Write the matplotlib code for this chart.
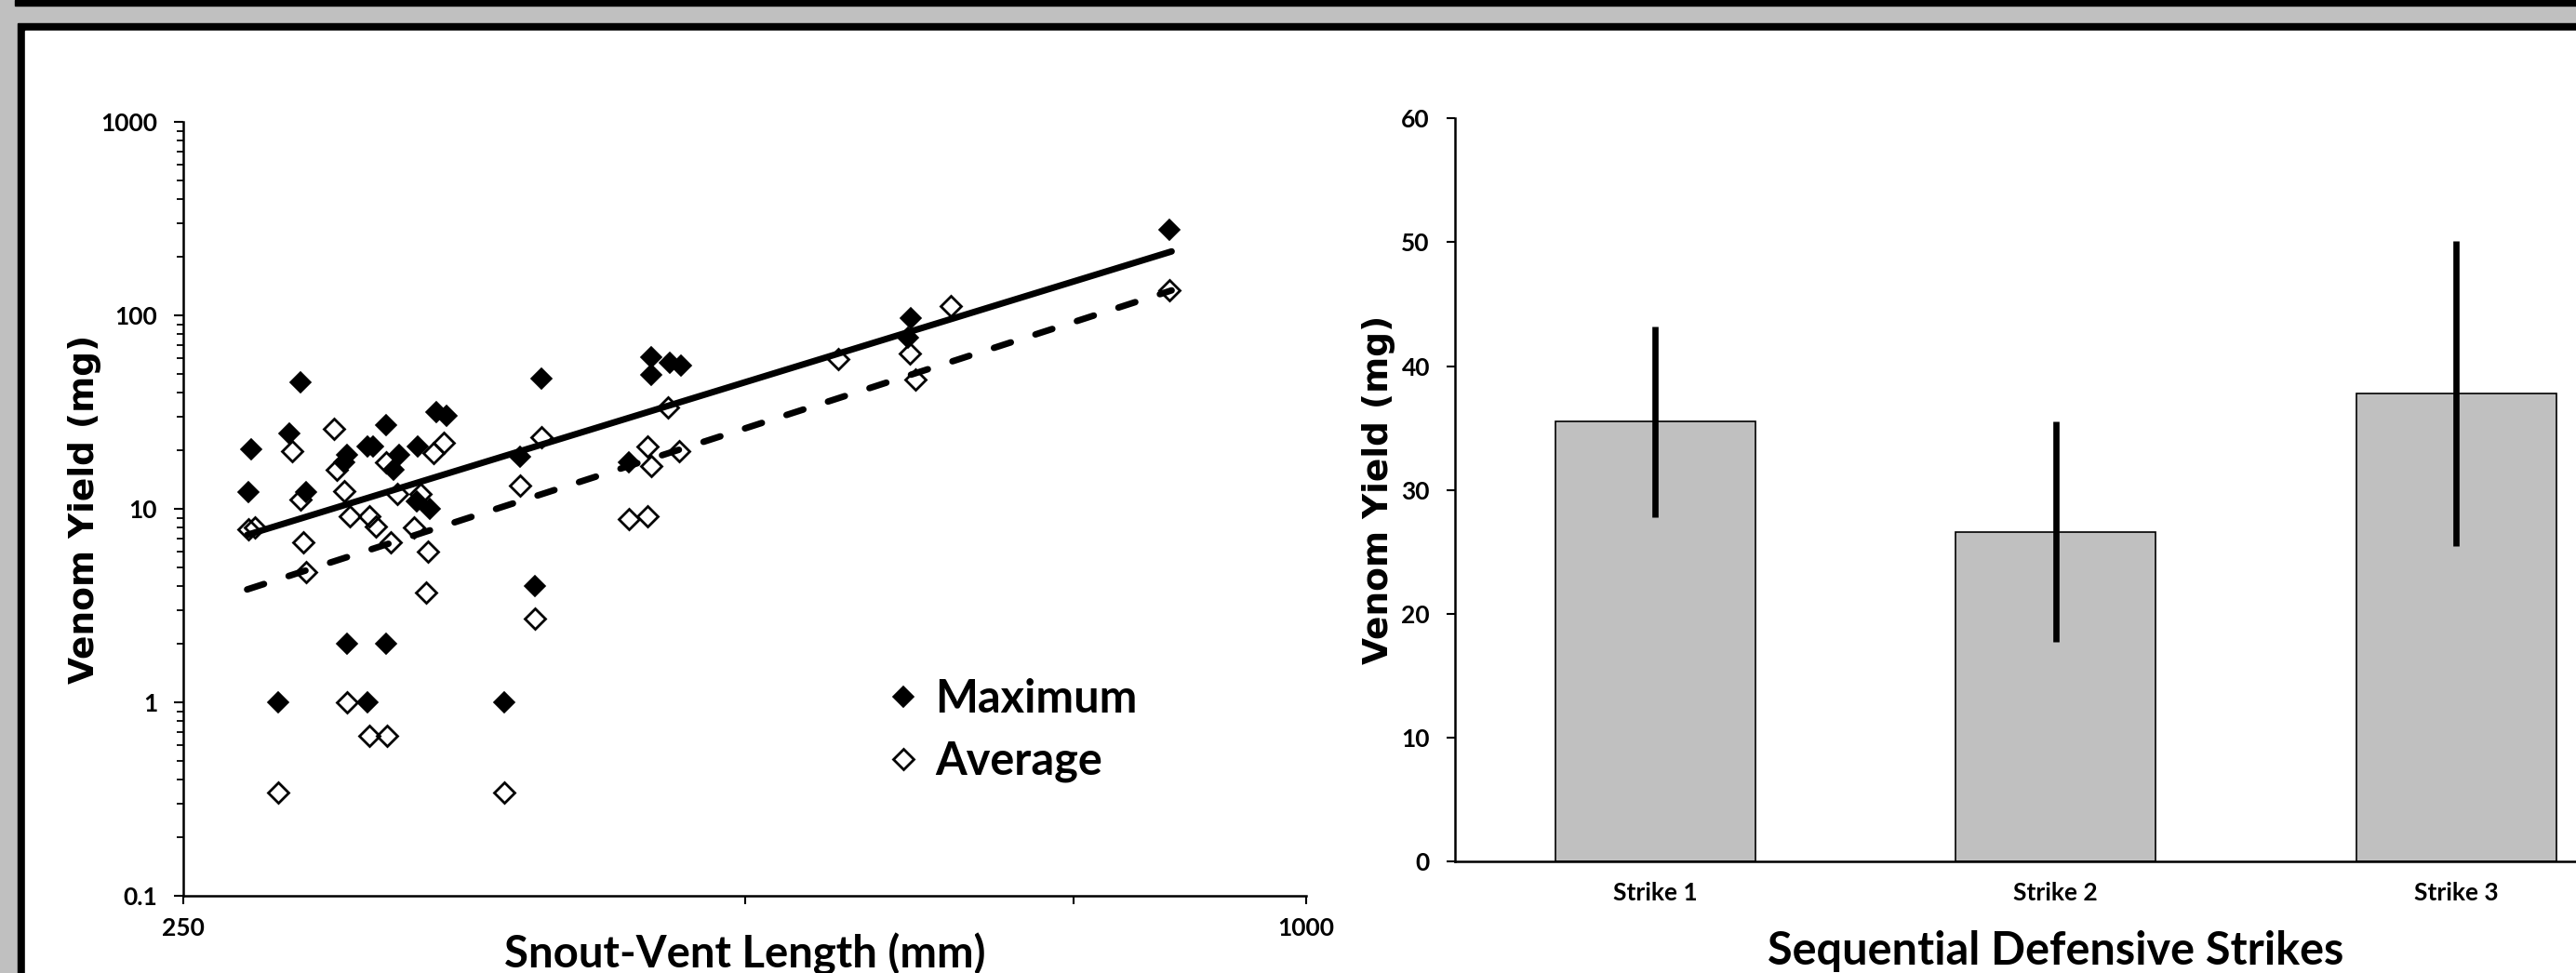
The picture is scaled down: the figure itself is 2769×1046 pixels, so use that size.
import numpy as np
import matplotlib
matplotlib.use("Agg")
import matplotlib.pyplot as plt
from matplotlib.patches import Rectangle
from matplotlib.ticker import LogLocator, NullFormatter

plt.rcParams['font.family'] = ['Lato', 'DejaVu Sans']
plt.rcParams['font.weight'] = 'bold'

# left panel: snout-vent length (mm) vs venom yield (mg)
max_svl = [272, 271, 281, 289, 285, 291, 306, 305, 306, 314, 316, 314, 321, 321,
           326.5, 324, 334, 333.5, 339, 341.5, 346, 371.5, 379, 386, 389, 433.5,
           445.6, 445.6, 456, 462, 614, 612, 845]
max_yield = [20.2, 12.2, 1.0, 45, 24.5, 12.2, 19.0, 17.4, 2.0, 21.1, 21.1, 1.0, 27, 2.0,
             19.0, 16.0, 21.1, 10.9, 10.0, 31.5, 30.2, 1.0, 18.6, 4.0, 47, 17.4,
             60.8, 49.2, 57.1, 54.7, 97, 77, 277]
avg_svl = [271, 273, 286, 289, 290, 291, 281, 301, 302, 305, 307, 306, 314.7, 317,
           314.7, 321.5, 321, 323, 325.5, 332.5, 335, 338, 337.5, 340.6, 345, 371.5,
           379, 386, 389, 433.5, 443.7, 443.7, 445.6, 455, 461, 561, 613, 617, 645, 845]
avg_yield = [7.8, 8.0, 19.8, 11.2, 6.7, 4.7, 0.34, 26, 16.0, 12.4, 9.2, 1.0, 9.2, 8.1,
             0.67, 0.67, 17.4, 6.7, 11.9, 8.0, 11.9, 6.0, 3.7, 19.4, 22, 0.34,
             13.2, 2.7, 23.4, 8.85, 9.2, 21.1, 16.7, 33.6, 19.8, 59.7, 63.2, 46.5, 112, 134.6]

# power-law trend lines (end points)
trend_svl = [270.5, 847]
trend_max = [7.33, 214]
trend_avg = [3.83, 134.6]

# right panel: sequential strikes
strikes = ['Strike 1', 'Strike 2', 'Strike 3']
strike_mean = [35.5, 26.6, 37.8]
strike_err = [7.7, 8.9, 12.3]

W, H = 2769, 1046
fig = plt.figure(figsize=(W / 100, H / 100), dpi=100, facecolor='#c0c0c0')

# frame around the panel
fig.add_artist(Rectangle((16 / W, 1 - 6 / H), 1, 6 / H, transform=fig.transFigure,
                         color='black', zorder=-10))
fig.add_artist(Rectangle((19 / W, 0), 1, (H - 25) / H, transform=fig.transFigure,
                         color='black', zorder=-10))
fig.add_artist(Rectangle((27 / W, 0), 1, (H - 33) / H, transform=fig.transFigure,
                         color='white', zorder=-9))

ax = fig.add_axes([197 / W, 1 - 963 / H, 1207 / W, 832 / H])
ax.set_facecolor('none')
ax.plot(trend_svl, trend_max, color='black', lw=5, solid_capstyle='round')
ax.plot(trend_svl, trend_avg, color='black', lw=5, dashes=(2.75, 4.0),
        dash_capstyle='round')
ax.plot(max_svl, max_yield, 'D', ms=11, mfc='black', mec='black', mew=1.2,
        ls='none', label='Maximum')
ax.plot(avg_svl, avg_yield, 'D', ms=11, mfc='none', mec='black', mew=2,
        ls='none', label='Average')

ax.set_xscale('log')
ax.set_yscale('log')
ax.set_xlim(250, 1000)
ax.set_ylim(0.1, 1000)
ax.set_xticks([250, 1000])
ax.set_xticklabels(['250', '1000'])
ax.set_xticks([500, 750], minor=True)
ax.xaxis.set_minor_formatter(NullFormatter())
ax.set_yticks([0.1, 1, 10, 100, 1000])
ax.set_yticklabels(['0.1', '1', '10', '100', '1000'])
ax.yaxis.set_minor_locator(LogLocator(base=10, subs=np.arange(2, 10)))
ax.yaxis.set_minor_formatter(NullFormatter())

for s in ['top', 'right']:
    ax.spines[s].set_visible(False)
for s in ['left', 'bottom']:
    ax.spines[s].set_linewidth(1.8)
ax.tick_params(axis='y', which='major', length=7, width=1.5, pad=13, labelsize=19)
ax.tick_params(axis='y', which='minor', length=5, width=1.3)
ax.tick_params(axis='x', which='both', length=6.5, width=1.5, pad=10, labelsize=19)

ax.set_xlabel('Snout-Vent Length (mm)', fontsize=34, fontweight='bold')
ax.xaxis.set_label_coords(0.5, -0.048)
ax.xaxis.label.set_va('top')
ax.set_ylabel('Venom Yield (mg)', fontsize=27, fontweight='bold', family='DejaVu Sans')
ax.yaxis.set_label_coords(-0.0729, 0.5)

ax.legend(loc='center left', bbox_to_anchor=(0.625, 0.214), frameon=False,
          prop={'size': 35, 'weight': 'bold'}, handlelength=0.8, handletextpad=0.3,
          borderpad=0, borderaxespad=0, labelspacing=0.45, markerscale=1.05)

# right panel
ax2 = fig.add_axes([1564 / W, 1 - 926 / H, 1291.5 / W, 798.7 / H])
ax2.set_facecolor('none')
x = np.arange(len(strikes))
ax2.bar(x, strike_mean, width=0.5, color='#c0c0c0', edgecolor='black', linewidth=1.2)
ax2.errorbar(x, strike_mean, yerr=strike_err, fmt='none', ecolor='black',
             elinewidth=4.8, capsize=0)
ax2.set_xlim(-0.5, 2.5)
ax2.set_ylim(0, 60)
ax2.set_yticks(range(0, 61, 10))
ax2.set_xticks(x)
ax2.set_xticklabels(strikes)
for s in ['top', 'right']:
    ax2.spines[s].set_visible(False)
for s in ['left', 'bottom']:
    ax2.spines[s].set_linewidth(1.8)
ax2.tick_params(axis='y', length=6.5, width=1.5, pad=13, labelsize=19)
ax2.tick_params(axis='x', length=0, pad=16, labelsize=19)

ax2.set_xlabel('Sequential Defensive Strikes', fontsize=35, fontweight='bold')
ax2.xaxis.set_label_coords(0.5, -0.0927)
ax2.xaxis.label.set_va('top')
ax2.set_ylabel('Venom Yield (mg)', fontsize=27, fontweight='bold', family='DejaVu Sans')
ax2.yaxis.set_label_coords(-0.0496, 0.5)

fig.savefig('out.png', dpi=100, facecolor=fig.get_facecolor())
